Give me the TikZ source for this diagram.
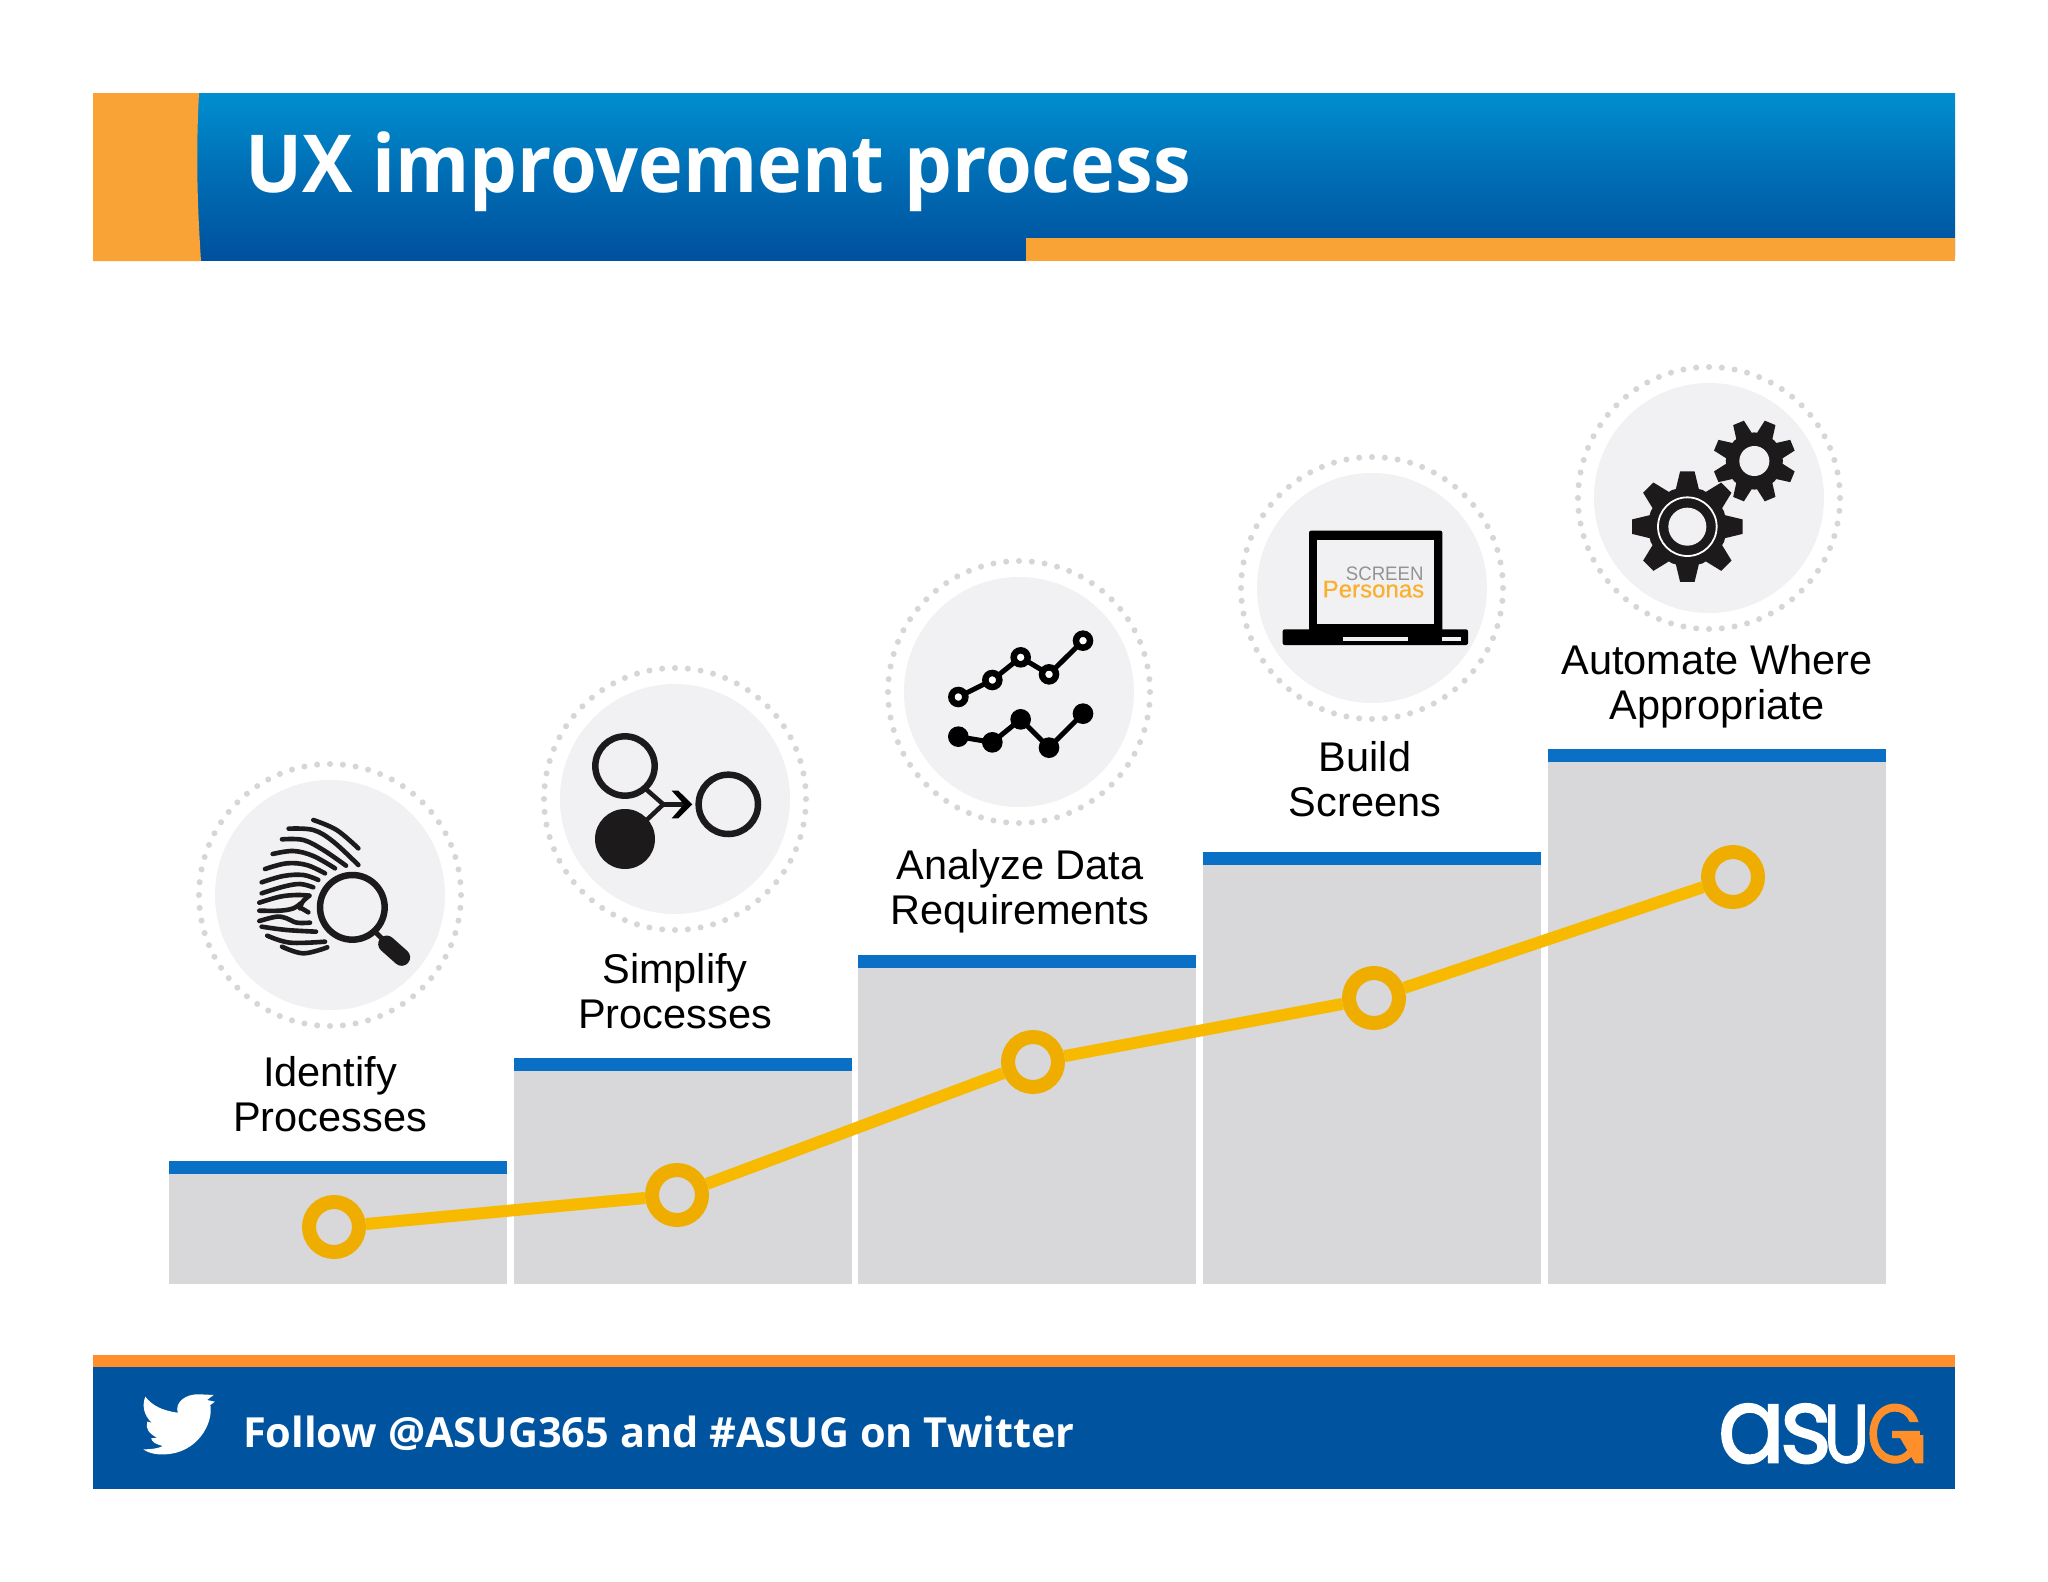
\documentclass[tikz,border=0pt]{standalone}
\usepackage{fontspec}
\setmainfont{Liberation Sans}
\newfontfamily\titlefont{Open Sans}
\newfontfamily\logofont[FakeBold=1.4]{Poppins}
\newfontfamily\persfont[FakeBold=.5]{Liberation Sans}
\definecolor{hTop}{HTML}{008FD0}
\definecolor{hBot}{HTML}{00529E}
\definecolor{orA}{HTML}{F9A235}
\definecolor{orB}{HTML}{FF8F2B}
\definecolor{footB}{HTML}{00549F}
\definecolor{barG}{HTML}{D8D7DA}
\definecolor{barB}{HTML}{0A70C6}
\definecolor{discG}{HTML}{F1F0F2}
\definecolor{dotG}{HTML}{D6D5D7}
\definecolor{ringY}{HTML}{EFAD00}
\definecolor{lineY}{HTML}{F7BA00}
\definecolor{inkK}{HTML}{1C1A1A}
\tikzset{
  barbody/.style={fill=barG,draw=none},
  bartop/.style={fill=barB,draw=none},
  disc/.style={circle,fill=discG,draw=none,minimum size=230pt,inner sep=0pt},
  marker/.style={circle,draw=ringY,fill=barG,line width=14pt,minimum size=50pt,inner sep=0pt},
  trend/.style={draw=lineY,line width=12pt},
  steplabel/.style={font=\fontsize{41.5}{44.6}\selectfont,align=center,inner sep=0pt,text=black},
  ridge/.style={draw=inkK,line width=4.6pt,line cap=round,line join=round},
  iconline/.style={draw=inkK,line width=6.5pt},
}
\newcommand{\dotring}[2]{\foreach \i in {1,...,64}{\fill[dotG,shift={(#1,#2)}] ({\i*5.625}:131) circle[radius=3];}}
\newcommand{\stepbar}[3]{\fill[barbody] (#1,#3) rectangle (#2,1284);\fill[bartop] (#1,#3-13) rectangle (#2,#3);}
% cx cy Router Rroot rot tipHalf rootHalf
\newcommand{\gearshape}[7]{\fill[inkK,shift={(#1,#2)},rotate=#5] (-#6:#3)
  \foreach \a in {0,45,...,315}{ -- ({\a-#6}:#3) -- ({\a+#6}:#3) -- ({\a+#7}:#4) -- ({\a+22.5}:{#4*1.01}) -- ({\a+45-#7}:#4) } -- cycle;}
\begin{document}
\begin{tikzpicture}[x=1pt,y=-1pt]
\useasboundingbox (0,0) rectangle (2048,1582);
\fill[white] (0,0) rectangle (2048,1582);
% header
\fill[hBot] (93,200) rectangle (1955,261);
\shade[top color=hTop,bottom color=hBot,middle color=hBot!55!hTop] (93,93) rectangle (1955,255);
\fill[orA] (93,93) -- (199,93) .. controls (196,150) and (197,200) .. (201,261) -- (93,261) -- cycle;
\fill[orA] (1026,238) rectangle (1955,261);
\node[font=\titlefont\bfseries\fontsize{80}{90}\selectfont,text=white,anchor=base west,inner sep=0pt] (title) at (245,192) {\scalebox{.945}[1]{UX improvement process}};
% bars
\stepbar{169}{507}{1174}
\stepbar{514}{852}{1071}
\stepbar{858}{1196}{968}
\stepbar{1203}{1541}{865}
\stepbar{1548}{1886}{762}
% trend
\node[marker] (m1) at (334,1227) {};
\node[marker] (m2) at (677,1195) {};
\node[marker] (m3) at (1033,1062) {};
\node[marker] (m4) at (1374,998) {};
\node[marker] (m5) at (1733,877) {};
\draw[trend] (m1) -- (m2);
\draw[trend] (m2) -- (m3);
\draw[trend] (m3) -- (m4);
\draw[trend] (m4) -- (m5);
% labels
\node[steplabel] (l1) at (330,1094) {Identify\\Processes};
\node[steplabel] (l2) at (675,991) {Simplify\\Processes};
\node[steplabel] (l3) at (1020,891) {Analyze Data\\Requirements};
\node[steplabel] (l4) at (1365,779) {Build\\Screens};
\node[steplabel] (l5) at (1717,686) {Automate Where\\Appropriate};
% discs
\dotring{330}{895}\node[disc] (d1) at (330,895) {};
\dotring{675}{799}\node[disc] (d2) at (675,799) {};
\dotring{1019}{692}\node[disc] (d3) at (1019,692) {};
\dotring{1372}{588}\node[disc] (d4) at (1372,588) {};
\dotring{1709}{498}\node[disc] (d5) at (1709,498) {};
% icon 1
\begin{scope}[shift={(190,750)},scale=1/3]
\foreach \c in {
 {(370,210)(440,240)(505,295)},
 {(296,236)(370,240)(430,275)(505,345)},
 {(276,268)(340,270)(400,300)(468,347)},
 {(248,312)(310,303)(370,318)(435,355)},
 {(225,357)(290,340)(350,345)(405,370)},
 {(215,397)(280,378)(340,375)(385,390)},
 {(215,430)(280,410)(330,402)(370,412)},
 {(208,458)(270,440)(320,435)(358,437)},
 {(358,437)(338,455)(330,475)},
 {(208,482)(270,482)(310,475)(332,460)},
 {(330,472)(355,487)},
 {(208,513)(260,500)(290,505)(320,518)(360,518)},
 {(215,530)(290,540)(378,545)},
 {(232,557)(300,578)(405,575)},
 {(276,590)(340,610)(412,592)}}
 {\draw[ridge] plot[smooth,tension=.6] coordinates \c;}
\draw[iconline,fill=discG] (487,472) circle[radius=97];
\draw[inkK,line width=5pt] (555,545) -- (585,575);
\draw[inkK,line width=17pt,line cap=round] (590,582) -- (635,622);
\end{scope}
% icon 2
\begin{scope}[shift={(530,660)},scale=1/3]
\draw[iconline] (285,318) circle[radius=89];
\fill[inkK] (285,537) circle[radius=90];
\draw[iconline] (595,433) circle[radius=89];
\draw[inkK,line width=4.5pt] (345,385) -- (400,433) -- (350,480);
\draw[inkK,line width=4.5pt] (400,433) -- (470,433);
\fill[black] (425,392) -- (445,392) -- (487,433) -- (445,475) -- (425,475) -- (462,433) -- cycle;
\end{scope}
% icon 3
\begin{scope}[shift={(880,555)},scale=1/3]
\draw[black,line width=5pt] (235,426) -- (337,375) -- (422,307) -- (507,358) -- (609,257);
\foreach \p in {(235,426),(337,375),(422,307),(507,358),(609,257)}
  \draw[black,line width=6.5pt,fill=white] \p circle[radius=21];
\draw[black,line width=5pt] (235,545) -- (337,562) -- (422,493) -- (507,578) -- (609,476);
\foreach \p in {(235,545),(337,562),(422,493),(507,578),(609,476)}
  \fill[black] \p circle[radius=31];
\end{scope}
% icon 4
\begin{scope}[shift={(1230,450)},scale=1/3]
\fill[black,rounded corners=2pt] (237,242) rectangle (637,545);
\fill[discG] (262,270) rectangle (612,522);
\fill[black,rounded corners=2pt] (158,538) rectangle (714,585);
\fill[discG] (338,562) rectangle (535,574);
\fill[discG] (637,562) rectangle (693,574);
\node[anchor=base east,inner sep=0pt,font=\fontsize{18.6}{20}\selectfont,text=gray!85] (scr) at (581,392) {\scalebox{1}[1.05]{SCREEN}};
\node[anchor=base east,inner sep=0pt,font=\persfont\fontsize{24}{25}\selectfont,text=orA!85!yellow] (per) at (583,442) {Personas};
\end{scope}
% icon 5
\begin{scope}[shift={(1570,360)},scale=1/3]
\gearshape{352}{500}{167}{118}{0}{7.5}{17}
\draw[white,line width=1.8pt] (352,500) circle[radius=88];
\fill[discG] (352,500) circle[radius=57];
\gearshape{553}{303}{125}{85}{22.5}{8}{17}
\fill[discG] (553,303) circle[radius=45];
\end{scope}
% footer
\fill[footB] (93,1367) rectangle (1955,1489);
\fill[orB] (93,1355) rectangle (1955,1367);
\begin{scope}[shift={(90,1340)},xscale=1/1.537,yscale=1/3]
\fill[white] (85,170) .. controls (95,195) and (110,212) .. (135,218)
  .. controls (130,190) and (145,160) .. (170,163)
  -- (190,165) -- (180,180) -- (192,185) -- (185,195)
  .. controls (190,250) and (165,340) .. (115,343)
  .. controls (105,345) and (90,340) .. (82,328)
  .. controls (95,328) and (105,325) .. (112,318)
  .. controls (100,312) and (95,305) .. (94,295)
  -- (103,293) .. controls (90,280) and (85,265) .. (88,245)
  -- (95,248) .. controls (82,225) and (80,195) .. (85,170) -- cycle;
\end{scope}
\node[font=\titlefont\bfseries\fontsize{41.5}{48}\selectfont,text=white,anchor=base west,inner sep=0pt] (follow) at (243,1447) {Follow @ASUG365 and \#ASUG on Twitter};
% logo
\begin{scope}[shift={(1660,1340)},scale=1/3]
\node[font=\logofont\fontsize{106}{110}\selectfont,text=white,anchor=base west,inner sep=0pt] (la) at (172,368) {\scalebox{.95}[1]{a}};
\node[font=\logofont\fontsize{106}{110}\selectfont,text=white,anchor=base west,inner sep=0pt] (ls) at (358,368) {\scalebox{.95}[1]{s}};
\node[font=\logofont\fontsize{83}{90}\selectfont,text=white,anchor=base west,inner sep=0pt] (lu) at (490,368) {\scalebox{.82}[1]{U}};
\node[font=\logofont\fontsize{83}{90}\selectfont,text=orB,anchor=base west,inner sep=0pt] (lg) at (620,368) {\scalebox{.86}[1]{G}};
\fill[orB] (715,285) -- (790,285) -- (790,370) -- (765,370) -- cycle;
\end{scope}
\end{tikzpicture}
\end{document}
